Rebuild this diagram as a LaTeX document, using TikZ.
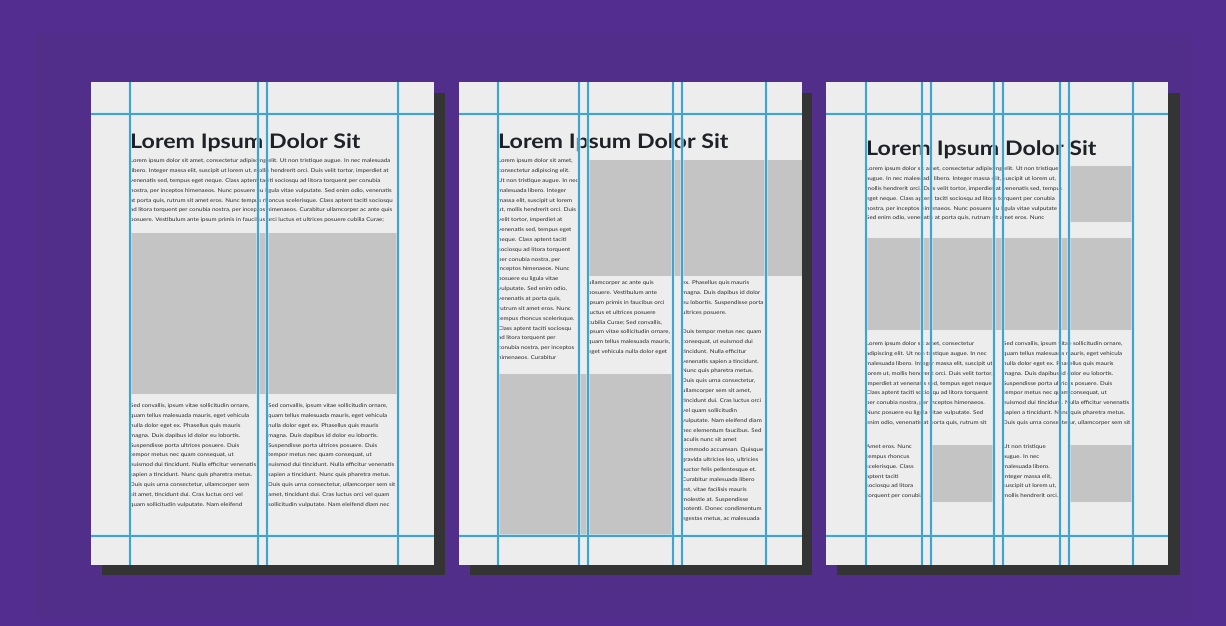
\documentclass[tikz,border=0pt]{standalone}
\usepackage{fontspec}
\setmainfont{Lato}[FakeStretch=1.16]
\definecolor{bgouter}{RGB}{84,45,145}
\definecolor{bginner}{RGB}{80,46,137}
\definecolor{pagec}{RGB}{237,237,238}
\definecolor{shadowc}{RGB}{52,52,52}
\definecolor{imgc}{RGB}{196,196,196}
\definecolor{gridc}{RGB}{72,160,204}
\definecolor{haloc}{RGB}{190,238,252}
\definecolor{textc}{RGB}{40,40,42}
\definecolor{headc}{RGB}{30,34,38}
\tikzset{
  x=1pt, y=-1pt,
  pagebox/.style={fill=pagec},
  shadowbox/.style={fill=shadowc},
  imgbox/.style={fill=imgc},
  halo/.style={draw=haloc, line width=4.5pt, opacity=0.55},
  gridline/.style={draw=gridc, line width=1.4pt},
  heading/.style={font=\bfseries\fontsize{20}{24}\selectfont, text=headc, anchor=base west, inner sep=0pt},
  body/.style={font=\fontsize{5.3}{9.85}\selectfont, text=textc, align=left, anchor=north west, inner sep=0pt},
}
\begin{document}
\begin{tikzpicture}
\useasboundingbox (0,0) rectangle (1226,626);
\fill[bgouter] (0,0) rectangle (1226,626);
\fill[bginner] (36,33) rectangle (1192,618);

% ---------- shadows and pages ----------
\fill[shadowbox] (102,93) rectangle (445,575);
\fill[pagebox] (91,82) rectangle (434,565);
\fill[shadowbox] (470,93) rectangle (812,575);
\fill[pagebox] (459,82) rectangle (802,565);
\fill[shadowbox] (837,93) rectangle (1180,575);
\fill[pagebox] (826,82) rectangle (1168,565);

% ---------- image blocks ----------
\fill[imgbox] (130,233) rectangle (398,394);
\fill[imgbox] (588,160) rectangle (802,276);
\fill[imgbox] (498,374) rectangle (673,535);
\fill[imgbox] (1069,166) rectangle (1133,222);
\fill[imgbox] (866,238) rectangle (1133,330);
\fill[imgbox] (931,445) rectangle (994,502);
\fill[imgbox] (1069,445) rectangle (1133,502);

% ---------- page 1 ----------
\node[heading] (h1) at (130,148) {Lorem Ipsum Dolor Sit};
\node[body] (p1a) at (130,158.5) {Lorem ipsum dolor sit amet, consectetur adipiscing elit. Ut non tristique augue. In nec malesuada\\
libero. Integer massa elit, suscipit ut lorem ut, mollis hendrerit orci. Duis velit tortor, imperdiet at\\
venenatis sed, tempus eget neque. Class aptent taciti sociosqu ad litora torquent per conubia\\
nostra, per inceptos himenaeos. Nunc posuere eu ligula vitae vulputate. Sed enim odio, venenatis\\
at porta quis, rutrum sit amet eros. Nunc tempus rhoncus scelerisque. Class aptent taciti sociosqu\\
ad litora torquent per conubia nostra, per inceptos himenaeos. Curabitur ullamcorper ac ante quis\\
posuere. Vestibulum ante ipsum primis in faucibus orci luctus et ultrices posuere cubilia Curae;};
\node[body] (p1b) at (130,403.5) {Sed convallis, ipsum vitae sollicitudin ornare,\\
quam tellus malesuada mauris, eget vehicula\\
nulla dolor eget ex. Phasellus quis mauris\\
magna. Duis dapibus id dolor eu lobortis.\\
Suspendisse porta ultrices posuere. Duis\\
tempor metus nec quam consequat, ut\\
euismod dui tincidunt. Nulla efficitur venenatis\\
sapien a tincidunt. Nunc quis pharetra metus.\\
Duis quis urna consectetur, ullamcorper sem\\
sit amet, tincidunt dui. Cras luctus orci vel\\
quam sollicitudin vulputate. Nam eleifend};
\node[body] (p1c) at (268,403.5) {Sed convallis, ipsum vitae sollicitudin ornare,\\
quam tellus malesuada mauris, eget vehicula\\
nulla dolor eget ex. Phasellus quis mauris\\
magna. Duis dapibus id dolor eu lobortis.\\
Suspendisse porta ultrices posuere. Duis\\
tempor metus nec quam consequat, ut\\
euismod dui tincidunt. Nulla efficitur venenatis\\
sapien a tincidunt. Nunc quis pharetra metus.\\
Duis quis urna consectetur, ullamcorper sem sit\\
amet, tincidunt dui. Cras luctus orci vel quam\\
sollicitudin vulputate. Nam eleifend diam nec};

% ---------- page 2 ----------
\node[heading] (h2) at (498,148) {Lorem Ipsum Dolor Sit};
\node[body] (p2a) at (498,158.5) {Lorem ipsum dolor sit amet,\\
consectetur adipiscing elit.\\
Ut non tristique augue. In nec\\
malesuada libero. Integer\\
massa elit, suscipit ut lorem\\
ut, mollis hendrerit orci. Duis\\
velit tortor, imperdiet at\\
venenatis sed, tempus eget\\
neque. Class aptent taciti\\
sociosqu ad litora torquent\\
per conubia nostra, per\\
inceptos himenaeos. Nunc\\
posuere eu ligula vitae\\
vulputate. Sed enim odio,\\
venenatis at porta quis,\\
rutrum sit amet eros. Nunc\\
tempus rhoncus scelerisque.\\
Class aptent taciti sociosqu\\
ad litora torquent per\\
conubia nostra, per inceptos\\
himenaeos. Curabitur};
\node[body] (p2b) at (588,280.5) {ullamcorper ac ante quis\\
posuere. Vestibulum ante\\
ipsum primis in faucibus orci\\
luctus et ultrices posuere\\
cubilia Curae; Sed convallis,\\
ipsum vitae sollicitudin ornare,\\
quam tellus malesuada mauris,\\
eget vehicula nulla dolor eget};
\node[body] (p2c) at (682,280.5) {ex. Phasellus quis mauris\\
magna. Duis dapibus id dolor\\
eu lobortis. Suspendisse porta\\
ultrices posuere.};
\node[body] (p2d) at (682,329.5) {Duis tempor metus nec quam\\
consequat, ut euismod dui\\
tincidunt. Nulla efficitur\\
venenatis sapien a tincidunt.\\
Nunc quis pharetra metus.\\
Duis quis urna consectetur,\\
ullamcorper sem sit amet,\\
tincidunt dui. Cras luctus orci\\
vel quam sollicitudin\\
vulputate. Nam eleifend diam\\
nec elementum faucibus. Sed\\
iaculis nunc sit amet\\
commodo accumsan. Quisque\\
gravida ultricies leo, ultricies\\
auctor felis pellentesque et.\\
Curabitur malesuada libero\\
est, vitae facilisis mauris\\
molestie at. Suspendisse\\
potenti. Donec condimentum\\
egestas metus, ac malesuada};

% ---------- page 3 ----------
\node[heading] (h3) at (866,155) {Lorem Ipsum Dolor Sit};
\node[body] (p3a) at (866,166.5) {Lorem ipsum dolor sit amet, consectetur adipiscing elit. Ut non tristique\\
augue. In nec malesuada libero. Integer massa elit, suscipit ut lorem ut,\\
mollis hendrerit orci. Duis velit tortor, imperdiet at venenatis sed, tempus\\
eget neque. Class aptent taciti sociosqu ad litora torquent per conubia\\
nostra, per inceptos himenaeos. Nunc posuere eu ligula vitae vulputate\\
Sed enim odio, venenatis at porta quis, rutrum sit amet eros. Nunc};
\node[body] (p3b) at (866,341.5) {Lorem ipsum dolor sit amet, consectetur\\
adipiscing elit. Ut non tristique augue. In nec\\
malesuada libero. Integer massa elit, suscipit ut\\
lorem ut, mollis hendrerit orci. Duis velit tortor,\\
imperdiet at venenatis sed, tempus eget neque\\
Class aptent taciti sociosqu ad litora torquent\\
per conubia nostra, per inceptos himenaeos.\\
Nunc posuere eu ligula vitae vulputate. Sed\\
enim odio, venenatis at porta quis, rutrum sit};
\node[body] (p3c) at (1003,341.5) {Sed convallis, ipsum vitae sollicitudin ornare,\\
quam tellus malesuada mauris, eget vehicula\\
nulla dolor eget ex. Phasellus quis mauris\\
magna. Duis dapibus id dolor eu lobortis.\\
Suspendisse porta ultrices posuere. Duis\\
tempor metus nec quam consequat, ut\\
euismod dui tincidunt. Nulla efficitur venenatis\\
sapien a tincidunt. Nunc quis pharetra metus.\\
Duis quis urna consectetur, ullamcorper sem sit};
\node[body] (p3d) at (866,444.5) {Amet eros. Nunc\\
tempus rhoncus\\
scelerisque. Class\\
aptent taciti\\
sociosqu ad litora\\
torquent per conubia};
\node[body] (p3e) at (1003,444.5) {Ut non tristique\\
augue. In nec\\
malesuada libero.\\
Integer massa elit,\\
suscipit ut lorem ut,\\
mollis hendrerit orci.};

% ---------- grid lines ----------
\foreach \xl in {130,258,267,398} {\draw[halo] (\xl,82) -- (\xl,565);}
\foreach \xl in {498,579,588,673,682,766} {\draw[halo] (\xl,82) -- (\xl,565);}
\foreach \xl in {866,922,931,994,1003,1060,1069,1133} {\draw[halo] (\xl,82) -- (\xl,565);}
\foreach \yl in {114,536} {
  \draw[halo] (91,\yl) -- (434,\yl);
  \draw[halo] (459,\yl) -- (802,\yl);
  \draw[halo] (826,\yl) -- (1168,\yl);
}
\foreach \xl in {130,258,267,398} {\draw[gridline] (\xl,82) -- (\xl,565);}
\foreach \xl in {498,579,588,673,682,766} {\draw[gridline] (\xl,82) -- (\xl,565);}
\foreach \xl in {866,922,931,994,1003,1060,1069,1133} {\draw[gridline] (\xl,82) -- (\xl,565);}
\foreach \yl in {114,536} {
  \draw[gridline] (91,\yl) -- (434,\yl);
  \draw[gridline] (459,\yl) -- (802,\yl);
  \draw[gridline] (826,\yl) -- (1168,\yl);
}
\end{tikzpicture}
\end{document}
